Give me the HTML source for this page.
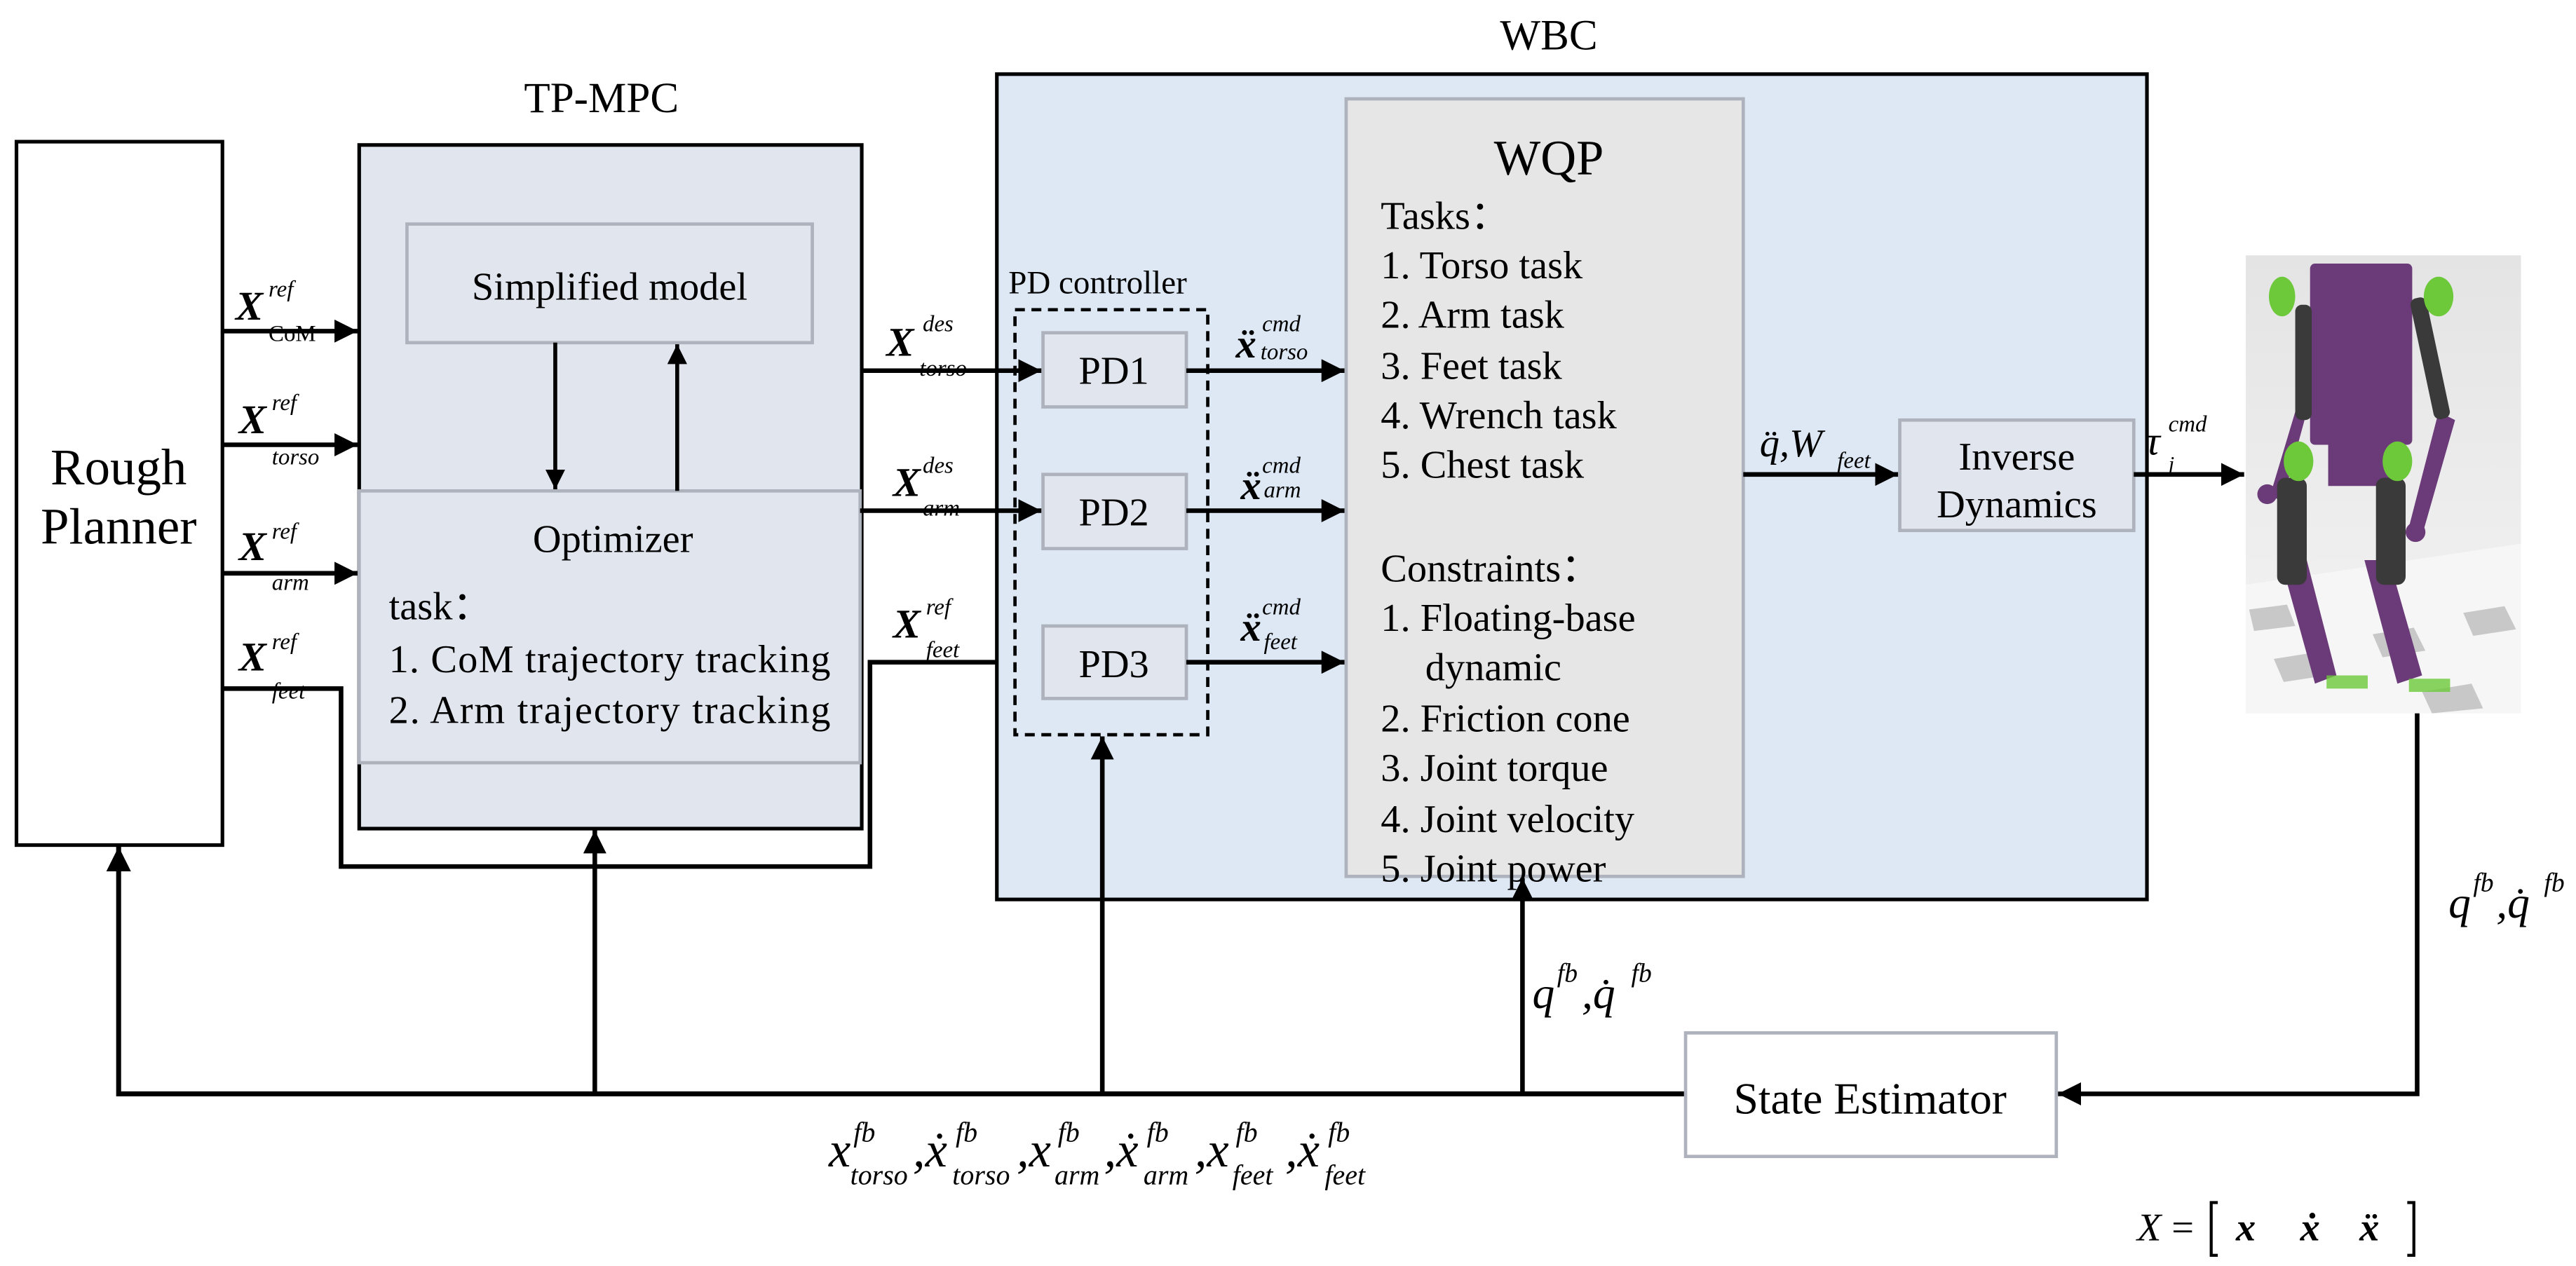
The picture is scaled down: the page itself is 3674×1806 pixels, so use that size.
<!DOCTYPE html>
<html><head><meta charset="utf-8"><style>
html,body{margin:0;padding:0;background:#fff}
svg{display:block}
text{font-family:"Liberation Serif",serif;fill:#000}
.i{font-style:italic}
</style></head><body>
<svg width="3674" height="1806" viewBox="0 0 1563.4 768.5" xmlns="http://www.w3.org/2000/svg">
<defs>
<marker id="a" viewBox="0 0 10 10" refX="10" refY="5" markerWidth="5" markerHeight="5" orient="auto" markerUnits="strokeWidth"><path d="M0,0 L10,5 L0,10 z" fill="#000"/></marker>
<linearGradient id="bg" x1="0" y1="0" x2="0" y2="1"><stop offset="0" stop-color="#e4e4e4"/><stop offset="1" stop-color="#f4f4f4"/></linearGradient>
</defs>

<text x="940" y="30" font-size="26" text-anchor="middle">WBC</text>
<text x="365" y="68" font-size="26" text-anchor="middle">TP-MPC</text>

<rect x="10" y="86" width="125" height="427" fill="#fff" stroke="#000" stroke-width="2.2"/>
<text x="72" y="294" font-size="31" text-anchor="middle">Rough</text>
<text x="72" y="330" font-size="31" text-anchor="middle">Planner</text>

<rect x="218" y="88" width="305" height="415" fill="#e1e6ee" stroke="#000" stroke-width="2.2"/>
<rect x="247" y="136" width="246" height="72" fill="#e1e6ee" stroke="#adb2bc" stroke-width="2"/>
<text x="370" y="182" font-size="24" text-anchor="middle">Simplified model</text>
<rect x="218" y="298" width="304" height="165" fill="#e1e6ee" stroke="#adb2bc" stroke-width="2"/>
<text x="372" y="335" font-size="24" text-anchor="middle">Optimizer</text>
<text x="236" y="376" font-size="24">task：</text>
<text x="236" y="408" font-size="24" textLength="268">1. CoM trajectory tracking</text>
<text x="236" y="439" font-size="24" textLength="268">2.  Arm trajectory tracking</text>
<line x1="337" y1="208" x2="337" y2="297" stroke="#000" stroke-width="2.4" marker-end="url(#a)"/>
<line x1="411" y1="298" x2="411" y2="209" stroke="#000" stroke-width="2.4" marker-end="url(#a)"/>

<g stroke="#000" stroke-width="2.8" fill="none">
<line x1="135" y1="201" x2="217" y2="201" marker-end="url(#a)"/>
<line x1="135" y1="270" x2="217" y2="270" marker-end="url(#a)"/>
<line x1="135" y1="348" x2="217" y2="348" marker-end="url(#a)"/>
<polyline points="135,418 207,418 207,526 528,526 528,402 632,402" marker-end="url(#a)"/>
</g>
<g font-size="25" class="i" font-weight="bold">
<text x="143" y="194">X</text><text x="145" y="263">X</text><text x="145" y="340">X</text><text x="145" y="407">X</text>
<text x="538" y="216">X</text><text x="542" y="301">X</text><text x="542" y="387">X</text>
</g>
<g font-size="14" class="i">
<text x="163" y="180">ref</text><text x="165" y="249">ref</text><text x="165" y="327">ref</text><text x="165" y="394">ref</text>
<text x="165" y="282">torso</text><text x="165" y="358">arm</text><text x="165" y="424">feet</text>
<text x="560" y="201">des</text><text x="560" y="287">des</text><text x="562" y="373">ref</text>
<text x="558" y="228">torso</text><text x="560" y="313">arm</text><text x="562" y="399">feet</text>
</g>
<text x="163" y="207" font-size="14">CoM</text>

<rect x="605" y="45" width="698" height="501" fill="#dde8f4" stroke="#000" stroke-width="2.2"/>
<text x="612" y="178" font-size="20">PD controller</text>
<rect x="616" y="188" width="117" height="258" fill="none" stroke="#000" stroke-width="2" stroke-dasharray="6,4"/>
<g fill="#e1e6ee" stroke="#adb2bc" stroke-width="2">
<rect x="633" y="202" width="87" height="45"/><rect x="633" y="288" width="87" height="45"/><rect x="633" y="380" width="87" height="44"/>
</g>
<g font-size="24" text-anchor="middle"><text x="676" y="233">PD1</text><text x="676" y="319">PD2</text><text x="676" y="411">PD3</text></g>
<g stroke="#000" stroke-width="2.8">
<line x1="523" y1="225" x2="632" y2="225" marker-end="url(#a)"/>
<line x1="522" y1="310" x2="632" y2="310" marker-end="url(#a)"/>
<line x1="720" y1="225" x2="816" y2="225" marker-end="url(#a)"/>
<line x1="720" y1="310" x2="816" y2="310" marker-end="url(#a)"/>
<line x1="720" y1="402" x2="816" y2="402" marker-end="url(#a)"/>
</g>
<g font-size="25" class="i" font-weight="bold"><text x="750" y="217">ẍ</text><text x="753" y="303">ẍ</text><text x="753" y="389">ẍ</text></g>
<g font-size="14" class="i">
<text x="766" y="201">cmd</text><text x="766" y="287">cmd</text><text x="766" y="373">cmd</text>
<text x="765" y="218">torso</text><text x="767" y="302">arm</text><text x="767" y="394">feet</text>
</g>

<rect x="817" y="60" width="241" height="472" fill="#e6e6e6" stroke="#adb2bc" stroke-width="2"/>
<text x="940" y="106" font-size="30" text-anchor="middle">WQP</text>
<g font-size="24">
<text x="838" y="139">Tasks：</text>
<text x="838" y="169">1. Torso task</text>
<text x="838" y="199">2. Arm task</text>
<text x="838" y="230">3. Feet task</text>
<text x="838" y="260">4. Wrench task</text>
<text x="838" y="290">5. Chest task</text>
<text x="838" y="353">Constraints：</text>
<text x="838" y="383">1. Floating-base</text>
<text x="865" y="413">dynamic</text>
<text x="838" y="444">2. Friction cone</text>
<text x="838" y="474">3. Joint torque</text>
<text x="838" y="505">4. Joint velocity</text>
<text x="838" y="535">5. Joint power</text>
</g>
<line x1="1058" y1="288" x2="1152" y2="288" stroke="#000" stroke-width="2.8" marker-end="url(#a)"/>
<text x="1068" y="277" font-size="24" class="i">q̈,W</text><text x="1115" y="284" font-size="14" class="i">feet</text>
<rect x="1153" y="255" width="142" height="67" fill="#e1e6ee" stroke="#adb2bc" stroke-width="2"/>
<text x="1224" y="285" font-size="24" text-anchor="middle">Inverse</text>
<text x="1224" y="314" font-size="24" text-anchor="middle">Dynamics</text>
<line x1="1295" y1="288" x2="1362" y2="288" stroke="#000" stroke-width="2.8" marker-end="url(#a)"/>
<text x="1302" y="276" font-size="25" class="i">τ</text><text x="1316" y="262" font-size="14" class="i">cmd</text><text x="1316" y="286" font-size="13" class="i">j</text>

<rect x="1363" y="155" width="167" height="278" fill="url(#bg)"/>
<polygon points="1363,355 1530,330 1530,433 1363,433" fill="#f6f6f6"/>
<g fill="#c8c8c8"><polygon points="1380,400 1405,396 1412,410 1386,414"/><polygon points="1440,385 1465,381 1472,395 1446,399"/><polygon points="1495,372 1520,368 1527,382 1501,386"/><polygon points="1365,370 1388,367 1393,380 1368,383"/><polygon points="1470,420 1500,415 1507,430 1476,433"/></g>
<g fill="#6b3a78">
<rect x="1402" y="160" width="62" height="110" rx="3"/>
<rect x="1413" y="270" width="40" height="25"/>
<polygon points="1387,350 1400,340 1418,410 1405,415"/>
<polygon points="1435,340 1450,340 1470,410 1455,415"/>
<polygon points="1480,250 1490,255 1470,325 1462,320"/>
<polygon points="1393,250 1400,250 1385,305 1378,300"/>
<circle cx="1376" cy="300" r="6"/><circle cx="1466" cy="323" r="6"/>
</g>
<g fill="#3a3a3a">
<rect x="1393" y="185" width="10" height="70" rx="4"/>
<rect x="1470" y="180" width="10" height="75" rx="4" transform="rotate(-12 1475 218)"/>
<rect x="1382" y="290" width="18" height="65" rx="5"/>
<rect x="1442" y="290" width="18" height="65" rx="5"/>
</g>
<g fill="#6dc93a">
<ellipse cx="1385" cy="180" rx="8" ry="12"/><ellipse cx="1480" cy="180" rx="9" ry="12"/>
<ellipse cx="1395" cy="280" rx="9" ry="12"/><ellipse cx="1455" cy="280" rx="9" ry="12"/>
<rect x="1412" y="410" width="25" height="8" opacity="0.8"/><rect x="1462" y="412" width="25" height="8" opacity="0.8"/>
</g>

<g stroke="#000" fill="none">
<polyline points="1467,433 1467,664 1249,664" stroke-width="2.8" marker-end="url(#a)"/>
<polyline points="1023,664 72,664 72,514" stroke-width="3" marker-end="url(#a)"/>
<line x1="361" y1="664" x2="361" y2="504" stroke-width="2.8" marker-end="url(#a)"/>
<line x1="669" y1="664" x2="669" y2="447" stroke-width="2.8" marker-end="url(#a)"/>
<line x1="924" y1="664" x2="924" y2="533" stroke-width="2.8" marker-end="url(#a)"/>
</g>
<rect x="1023" y="627" width="225" height="75" fill="#fff" stroke="#adb2bc" stroke-width="2"/>
<text x="1135" y="676" font-size="27" text-anchor="middle">State Estimator</text>
<text x="930" y="612" font-size="27" class="i">q</text><text x="945" y="596" font-size="16" class="i">fb</text><text x="960" y="612" font-size="27" class="i">,q̇</text><text x="990" y="596" font-size="16" class="i">fb</text>
<text x="1486" y="557" font-size="27" class="i">q</text><text x="1501" y="541" font-size="16" class="i">fb</text><text x="1515" y="557" font-size="27" class="i">,q̇</text><text x="1544" y="541" font-size="16" class="i">fb</text>

<g class="i">
<text x="503" y="708" font-size="30">x</text><text x="518" y="693" font-size="17">fb</text><text x="516" y="719" font-size="17">torso</text>
<text x="554" y="708" font-size="30">,ẋ</text><text x="580" y="693" font-size="17">fb</text><text x="578" y="719" font-size="17">torso</text>
<text x="617" y="708" font-size="30">,x</text><text x="642" y="693" font-size="17">fb</text><text x="640" y="719" font-size="17">arm</text>
<text x="670" y="708" font-size="30">,ẋ</text><text x="696" y="693" font-size="17">fb</text><text x="694" y="719" font-size="17">arm</text>
<text x="725" y="708" font-size="30">,x</text><text x="750" y="693" font-size="17">fb</text><text x="748" y="719" font-size="17">feet</text>
<text x="780" y="708" font-size="30">,ẋ</text><text x="806" y="693" font-size="17">fb</text><text x="804" y="719" font-size="17">feet</text>
</g>
<text x="1297" y="753" font-size="24" class="i">X</text><text x="1318" y="753" font-size="24">=</text>
<path d="M1346,730 h-4 v32 h4 M1461,730 h4 v32 h-4" stroke="#000" stroke-width="1.8" fill="none"/>
<g font-size="24" class="i" font-weight="bold"><text x="1357" y="753">x</text><text x="1396" y="753">ẋ</text><text x="1432" y="753">ẍ</text></g>
</svg>
</body></html>
